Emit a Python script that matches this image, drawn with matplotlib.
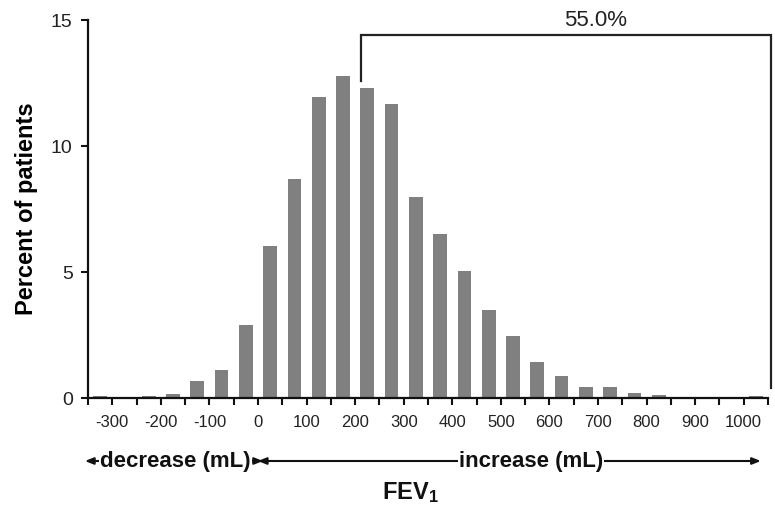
import matplotlib.pyplot as plt
import matplotlib.transforms as mtransforms
import matplotlib

matplotlib.rcParams['font.family'] = ['Liberation Sans', 'DejaVu Sans']
matplotlib.rcParams['mathtext.fontset'] = 'custom'
matplotlib.rcParams['mathtext.rm'] = 'Liberation Sans'
matplotlib.rcParams['mathtext.bf'] = 'Liberation Sans:bold'

# bin centres (mL) and percent of patients
bin_centers = [-325, -275, -225, -175, -125, -75, -25, 25, 75, 125, 175, 225, 275, 325,
               375, 425, 475, 525, 575, 625, 675, 725, 775, 825, 875, 925, 975, 1025]
percent = [0.08, 0.0, 0.1, 0.16, 0.67, 1.13, 2.92, 6.04, 8.70, 11.94, 12.79, 12.30, 11.68, 8.0,
           6.53, 5.06, 3.50, 2.48, 1.45, 0.88, 0.46, 0.45, 0.2, 0.15, 0.07, 0.02, 0.0, 0.1]
x_ticks = list(range(-350, 1051, 50))
x_labels = [str(t) if (t % 100 == 0 and -300 <= t <= 1000) else '' for t in x_ticks]
y_ticks = [0, 5, 10, 15]
bracket_text = '55.0%'

fig = plt.figure(figsize=(7.75, 5.2), dpi=100)
ax = fig.add_axes([88 / 775, 1 - 398.3 / 520, 680 / 775, 378.3 / 520])

ax.bar(bin_centers, percent, width=28, color='#808080', zorder=2)

ax.set_xlim(-350, 1050)
ax.set_ylim(0, 15)
ax.set_xticks(x_ticks)
ax.set_xticklabels(x_labels, fontsize=12, color='#222222')
ax.set_yticks(y_ticks)
ax.set_yticklabels([str(t) for t in y_ticks], fontsize=14, color='#222222')
ax.tick_params(axis='both', direction='out', length=5, width=1.5, color='#111111')
ax.tick_params(axis='x', pad=7)
ax.tick_params(axis='y', pad=6)

for s in ['top', 'right']:
    ax.spines[s].set_visible(False)
for s in ['left', 'bottom']:
    ax.spines[s].set_linewidth(1.6)
    ax.spines[s].set_color('#111111')

# bracket for the 55.0%
ax.plot([212, 212, 1056, 1056], [12.59, 14.42, 14.42, 0.4], color='#222222', lw=1.6,
        clip_on=False, solid_joinstyle='miter')
ax.text(695, 14.55, bracket_text, fontsize=16, ha='center', va='bottom', color='#222222')

ax.set_ylabel('Percent of patients', fontsize=17, fontweight='bold', labelpad=9)

# direction arrows below the axis
trans = mtransforms.blended_transform_factory(ax.transData, fig.transFigure)
y_arr = 1 - 461 / 520
ax.annotate('', xy=(-362, y_arr), xytext=(8, y_arr), xycoords=trans, textcoords=trans,
            arrowprops=dict(arrowstyle='-|>,head_length=0.5,head_width=0.2', color='#111111', lw=1.5),
            annotation_clip=False)
ax.annotate('', xy=(16, y_arr), xytext=(-15, y_arr), xycoords=trans, textcoords=trans,
            arrowprops=dict(arrowstyle='-|>,head_length=0.5,head_width=0.2', color='#111111', lw=1.5),
            annotation_clip=False)
ax.annotate('', xy=(-6, y_arr), xytext=(1041, y_arr), xycoords=trans, textcoords=trans,
            arrowprops=dict(arrowstyle='<|-|>,head_length=0.5,head_width=0.2', color='#111111', lw=1.5),
            annotation_clip=False)
ax.text(-170, y_arr, 'decrease (mL)', transform=trans, fontsize=16, fontweight='bold',
        ha='center', va='center', color='#111111',
        bbox=dict(facecolor='white', edgecolor='none', pad=1))
ax.text(562, y_arr, 'increase (mL)', transform=trans, fontsize=16, fontweight='bold',
        ha='center', va='center', color='#111111',
        bbox=dict(facecolor='white', edgecolor='none', pad=1))

fig.text(410 / 775, 1 - 493 / 520, r'$\mathbf{FEV_1}$', fontsize=17, ha='center', va='center',
         color='#111111')

plt.savefig('out.png', dpi=100)
